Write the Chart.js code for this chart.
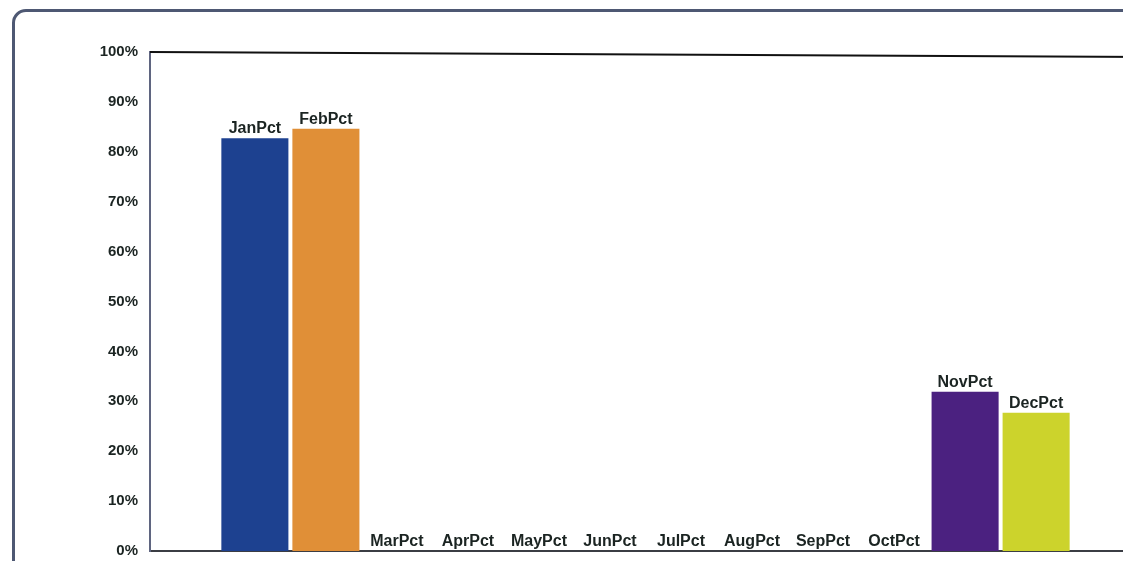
<!DOCTYPE html>
<html>
<head>
<meta charset="utf-8">
<script src="https://cdn.jsdelivr.net/npm/chart.js@4.4.1/dist/chart.umd.min.js"></script>
<style>
  html, body { margin: 0; padding: 0; background: #ffffff; overflow: hidden; width: 1123px; height: 561px; }
  #frame {
    position: absolute; left: 12px; top: 9px; width: 1200px; height: 700px;
    border: 3px solid #4e5873; border-radius: 14px; box-sizing: border-box;
  }
  #wrap { position: absolute; left: 0; top: 0; width: 1150px; height: 572px; }
</style>
</head>
<body>
<div id="frame"></div>
<div id="wrap"><canvas id="chart"></canvas></div>
<script>
// Monthly percentages, one bar per month
const seriesNames = ['JanPct', 'FebPct', 'MarPct', 'AprPct', 'MayPct', 'JunPct',
                     'JulPct', 'AugPct', 'SepPct', 'OctPct', 'NovPct', 'DecPct'];
const seriesValues = [82.7, 84.6, 0, 0, 0, 0, 0, 0, 0, 0, 31.9, 27.7];
const seriesColors = ['#1d4190', '#e08f37', '#3a7d44', '#b03a2e', '#6d6d6d', '#2a8fbd',
                      '#8a5a2b', '#c2467a', '#4f6d2f', '#7a7a9a', '#4b2180', '#ccd32c'];
const yTicks = [0, 10, 20, 30, 40, 50, 60, 70, 80, 90, 100];

const datasets = seriesNames.map((name, i) => ({
  label: name,
  data: [seriesValues[i]],
  backgroundColor: seriesColors[i],
  borderWidth: 0,
  barPercentage: 0.944,
  categoryPercentage: 0.86
}));

// Writes each series name above its bar
const barNamePlugin = {
  id: 'barNames',
  afterDatasetsDraw(chart) {
    const ctx = chart.ctx;
    ctx.save();
    ctx.font = 'bold 16px "Liberation Sans", Arial, sans-serif';
    ctx.fillStyle = '#1b2422';
    ctx.textAlign = 'center';
    ctx.textBaseline = 'alphabetic';
    chart.data.datasets.forEach((ds, i) => {
      const meta = chart.getDatasetMeta(i);
      meta.data.forEach(el => {
        ctx.fillText(ds.label, el.x, el.y - 5);
      });
    });
    ctx.restore();
  }
};

// Plot-area outline: black top edge
const plotFramePlugin = {
  id: 'plotFrame',
  afterDraw(chart) {
    const { ctx, chartArea } = chart;
    ctx.save();
    ctx.strokeStyle = '#111111';
    ctx.lineWidth = 2;
    ctx.beginPath();
    ctx.moveTo(chartArea.left, chartArea.top);
    ctx.lineTo(chartArea.right + 20, chartArea.top + 5);
    ctx.stroke();
    ctx.restore();
  }
};

new Chart(document.getElementById('chart'), {
  type: 'bar',
  data: { labels: [''], datasets },
  options: {
    responsive: true,
    maintainAspectRatio: false,
    animation: false,
    layout: { padding: { top: 52, right: 9, bottom: 10, left: 0 } },
    plugins: { legend: { display: false }, tooltip: { enabled: false } },
    scales: {
      x: {
        afterFit(scale) { scale.height = 0; },
        grid: { display: false, drawTicks: false },
        border: { display: true, color: '#3b3d44', width: 2 },
        ticks: { display: false }
      },
      y: {
        min: 0, max: 100,
        afterBuildTicks(scale) { scale.ticks = yTicks.map(v => ({ value: v })); },
        afterFit(scale) { scale.width = 150; },
        grid: { display: false, drawTicks: false },
        border: { display: true, color: '#5f6580', width: 2 },
        ticks: {
          padding: 12,
          color: '#1b2422',
          font: { family: '"Liberation Sans", Arial, sans-serif', size: 15, weight: 'bold' },
          callback: v => v + '%'
        }
      }
    }
  },
  plugins: [barNamePlugin, plotFramePlugin]
});
</script>
</body>
</html>
